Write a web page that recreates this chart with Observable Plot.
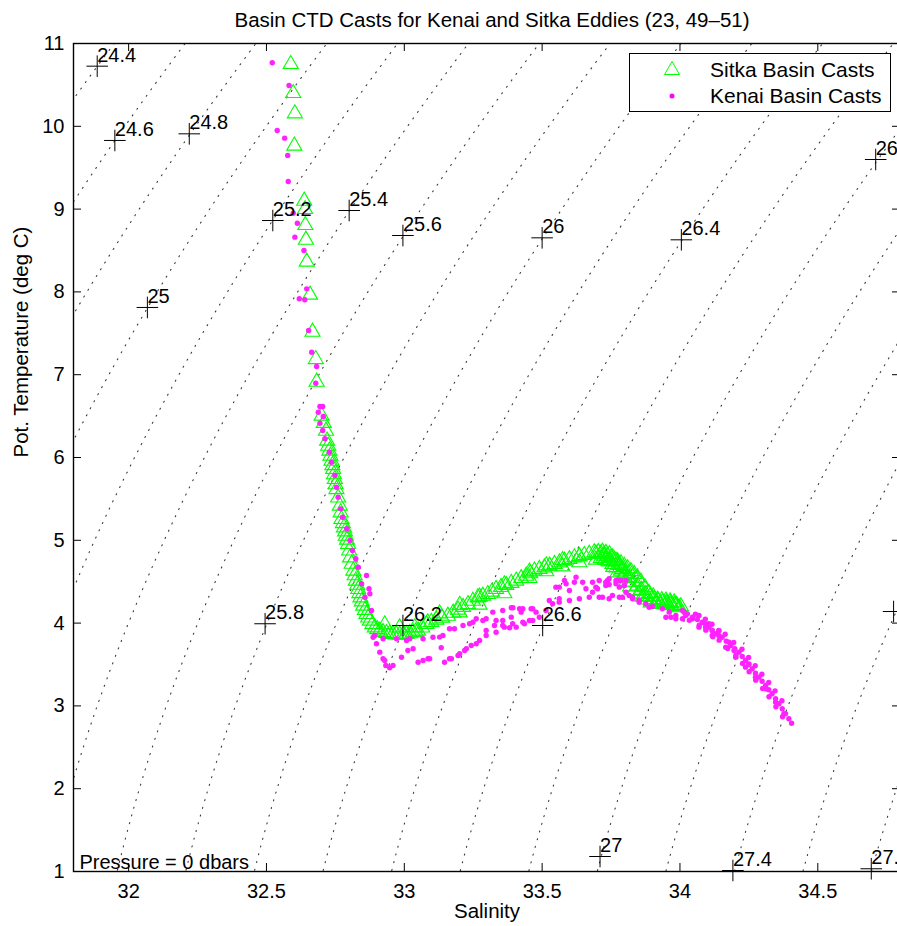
<!DOCTYPE html>
<html>
<head>
<meta charset="utf-8">
<script src="https://cdn.jsdelivr.net/npm/d3@7"></script>
<script src="https://cdn.jsdelivr.net/npm/@observablehq/plot@0.6"></script>
<style>
html, body { margin: 0; padding: 0; background: #fff; overflow: hidden; }
#wrap { position: relative; width: 897px; height: 926px; overflow: hidden; background: #fff; }
#legend { position: absolute; left: 629px; top: 53px; width: 260px; height: 57px; border: 1.3px solid #000; background: #fff; }
#legend svg { position: absolute; left: 0; top: 0; }
</style>
</head>
<body>
<div id="wrap">
  <div id="legend">
    <svg width="260" height="57" font-family="'Liberation Sans', Arial, Helvetica, sans-serif" font-size="21">
      <polygon points="42,7.5 34.5,20.5 49.5,20.5" fill="none" stroke="#00ff00" stroke-width="1"/>
      <circle cx="42" cy="42" r="2.5" fill="#ff00ff"/>
      <text x="80" y="23" fill="#000">Sitka Basin Casts</text>
      <text x="80" y="49" fill="#000">Kenai Basin Casts</text>
    </svg>
  </div>
</div>
<script>
// ---------------- data ----------------
const titleText = "Basin CTD Casts for Kenai and Sitka Eddies (23, 49–51)";
const xLabel = "Salinity";
const yLabel = "Pot. Temperature (deg C)";
const noteText = "Pressure = 0 dbars";

const xTicks = [32, 32.5, 33, 33.5, 34, 34.5];
const yTicks = [1, 2, 3, 4, 5, 6, 7, 8, 9, 10, 11];
const xDomain = [31.8, 34.8];
const yDomain = [1, 11];

// isopycnal (sigma-theta) levels drawn as dotted contours
const isoLevels = [24.4, 24.6, 24.8, 25.0, 25.2, 25.4, 25.6, 25.8, 26.0, 26.2, 26.4, 26.6, 26.8, 27.0, 27.2, 27.4, 27.6, 27.8];

// contour labels: salinity, temperature, text ("" = marker only, its text falls outside the picture)
const labelS = [31.886, 31.950, 32.220, 32.068, 32.523, 32.800, 32.995, 32.495, 33.500, 32.995, 34.005, 33.502, 34.710, 33.710, 34.192, 34.775, 34.694];
const labelT = [10.726, 9.829, 9.909, 7.812, 8.862, 8.983, 8.681, 3.992, 8.653, 3.971, 8.629, 3.971, 9.599, 1.181, 1.012, 4.140, 1.033];
const labelText = ["24.4", "24.6", "24.8", "25", "25.2", "25.4", "25.6", "25.8", "26", "26.2", "26.4", "26.6", "26.8", "27", "27.4", "", "27.8"];

// Sitka basin casts [salinity, pot. temperature]
const sitkaPoints = [
  [32.588,10.774],[32.597,10.424],[32.603,10.179],[32.601,9.789],[32.637,9.124],[32.640,9.023],
  [32.641,8.830],[32.643,8.653],[32.646,8.388],[32.658,7.989],[32.667,7.542],[32.679,7.211],[32.682,6.938],
  [32.700,6.528],[32.716,6.346],[32.720,6.226],[32.728,6.105],[32.736,5.984],[32.742,5.883],[32.748,5.762],
  [32.754,5.641],[32.766,5.441],[32.772,5.279],[32.781,5.179],[32.788,5.078],[32.796,4.977],[32.803,4.816],
  [32.815,4.656],[32.824,4.535],[32.833,4.434],[32.841,4.333],[32.851,4.233],[32.863,4.132],[32.875,4.052],
  [32.893,3.971],[32.911,3.931],[32.935,3.902],[32.959,3.890],[32.983,3.883],[33.008,3.890],[33.032,3.911],
  [33.050,3.931],[32.929,4.007],[32.983,3.971],[33.038,3.971],[33.085,4.032],
  [32.708,6.440],[32.724,6.165],[32.732,6.045],[32.739,5.930],[32.745,5.820],[32.751,5.700],[32.760,5.540],
  [32.769,5.360],[32.777,5.230],[32.785,5.130],[32.792,5.030],[32.800,4.900],[32.809,4.740],[32.820,4.600],
  [32.829,4.485],[32.837,4.385],[32.846,4.285],[32.857,4.180],[32.869,4.090],[32.884,4.010],[32.902,3.950],
  [32.923,3.915],[32.947,3.895],[32.971,3.886],[32.996,3.886],[33.020,3.900],[33.041,3.920],[33.065,3.970],
  [33.080,4.011],[33.116,4.064],[33.158,4.112],[33.195,4.185],[33.231,4.252],[33.267,4.333],[33.303,4.373],
  [33.333,4.434],[33.370,4.482],[33.406,4.535],[33.442,4.595],[33.472,4.656],[33.508,4.696],[33.545,4.736],
  [33.581,4.777],[33.617,4.816],[33.653,4.844],[33.689,4.877],[33.719,4.885],[33.744,4.856],[33.768,4.777],
  [33.792,4.675],[33.810,4.575],
  [33.098,4.037],[33.137,4.088],[33.177,4.148],[33.213,4.218],[33.249,4.292],[33.285,4.353],[33.318,4.403],
  [33.351,4.458],[33.388,4.508],[33.424,4.565],[33.457,4.625],[33.490,4.676],[33.527,4.716],[33.563,4.756],
  [33.599,4.796],[33.635,4.830],[33.671,4.860],[33.704,4.881],[33.731,4.870],[33.756,4.816],[33.780,4.726],
  [33.801,4.625],
  [33.128,4.140],[33.201,4.243],[33.273,4.342],[33.363,4.491],[33.454,4.644],[33.515,4.720],[33.574,4.784],
  [33.635,4.829],[33.695,4.865],
  [33.201,4.152],[33.273,4.245],[33.363,4.382],[33.454,4.567],[33.515,4.648],[33.574,4.708],[33.635,4.757],
  [33.695,4.789],
  [33.713,4.865],[33.737,4.837],[33.762,4.789],[33.786,4.744],[33.810,4.684],[33.834,4.615],[33.858,4.523],
  [33.888,4.386],[33.918,4.306],[33.949,4.294],[33.979,4.273],[33.997,4.213],
  [33.725,4.851],[33.750,4.813],[33.774,4.767],[33.798,4.714],[33.822,4.650],[33.846,4.570],[33.873,4.455],
  [33.903,4.346],[33.934,4.300],[33.964,4.284],[33.988,4.243],
  [33.713,4.808],[33.743,4.768],[33.773,4.635],[33.804,4.515],[33.834,4.414],[33.864,4.342],[33.894,4.273],
  [33.930,4.253],[33.967,4.240],[34.003,4.225],
  [33.728,4.788],[33.758,4.700],[33.789,4.575],[33.819,4.465],[33.849,4.378],[33.879,4.308],[33.912,4.263],
  [33.949,4.247],[33.985,4.232],
  [33.725,4.829],[33.755,4.736],[33.786,4.656],[33.816,4.575],[33.846,4.475],[33.876,4.373],[33.906,4.313],
  [33.936,4.273],[33.967,4.265],
  [33.740,4.780],[33.770,4.696],[33.801,4.615],[33.831,4.525],[33.861,4.424],[33.891,4.343],[33.921,4.293],
  [33.952,4.269],[33.980,4.245]
];

// Kenai basin casts [salinity, pot. temperature]
const kenaiPoints = [
  [32.521,10.767],[32.582,10.493],[32.539,9.949],[32.566,9.857],[32.577,9.647],[32.579,9.333],[32.597,8.950],
  [32.612,8.830],[32.603,8.661],[32.636,8.500],[32.646,8.037],[32.619,7.917],[32.639,7.905],[32.653,7.534],
  [32.664,7.272],[32.682,7.099],[32.679,6.897],[32.694,6.616],[32.704,6.616],[32.688,6.547],[32.706,6.495],
  [32.694,6.414],[32.704,6.326],[32.712,6.226],[32.728,6.064],[32.736,5.943],[32.748,5.783],[32.754,5.641],
  [32.760,5.520],[32.769,5.380],[32.776,5.279],[32.791,5.139],[32.803,4.998],[32.812,4.877],[32.824,4.777],
  [32.833,4.675],[32.863,4.575],[32.872,4.414],[32.875,4.354],[32.845,4.475],[32.857,4.313],[32.881,4.152],
  [32.893,3.850],[32.899,3.750],[32.911,3.649],[32.923,3.569],[32.929,3.549],[32.933,3.488],[32.947,3.460],
  [32.959,3.488],[32.990,3.588],[33.013,3.669],[33.032,3.690],[33.050,3.528],[33.068,3.549],[33.086,3.569],
  [33.092,3.569],[33.134,3.702],[33.146,3.528],[33.164,3.569],[33.171,3.569],[33.195,3.609],[33.201,3.629],
  [33.219,3.669],[33.225,3.690],[33.243,3.730],[33.261,3.750],[33.273,3.790],[33.297,3.850],[33.297,3.911],
  [33.327,3.971],[33.333,3.890],[33.357,4.032],[33.363,3.951],[33.388,4.072],[33.393,3.992],[33.424,4.132],
  [33.430,4.011],[33.454,4.032],[33.460,4.173],
  [32.887,3.830],[32.923,3.811],[32.972,3.811],[33.020,3.811],[33.068,3.811],[33.104,3.830],[33.140,3.850],
  [33.182,3.931],[33.213,3.971],[33.249,4.011],[33.285,4.032],[33.321,4.132],[33.357,4.152],[33.388,4.185],
  [33.430,4.173],[33.466,4.173],
  [33.008,3.790],[33.128,3.831],[33.164,3.931],[33.237,3.992],[33.261,4.052],[33.297,4.052],[33.394,4.185],
  [33.418,4.173],[33.478,4.132],
  [33.333,4.032],[33.357,3.971],[33.382,3.943],[33.406,3.951],[33.436,3.992],[33.466,4.032],[33.490,4.071],
  [33.514,4.152],[33.538,4.233],[33.562,4.294],
  [33.550,4.434],[33.562,4.434],[33.581,4.515],[33.587,4.475],[33.617,4.494],[33.623,4.555],[33.647,4.494],
  [33.683,4.494],[33.731,4.494],[33.737,4.515],[33.768,4.515],[33.786,4.515],[33.804,4.515],
  [33.707,4.515],[33.743,4.535],[33.780,4.515],[33.798,4.454],
  [33.526,4.273],[33.562,4.253],[33.599,4.273],[33.635,4.294],[33.671,4.313],[33.719,4.313],[33.755,4.333],
  [33.791,4.313],[33.828,4.294],[33.852,4.273],[33.876,4.233],[33.900,4.201],[33.936,4.173],[33.961,4.132],
  [33.967,4.071],[33.985,4.052],[34.015,4.132],
  [33.707,4.313],[33.743,4.294],[33.780,4.313],[33.816,4.333],[33.852,4.253],[33.888,4.192],[33.780,4.434],
  [33.804,4.373],[33.828,4.313],
  [33.599,4.394],[33.659,4.414],[33.695,4.434],[33.731,4.454],[33.683,4.373],[33.701,4.414],[33.743,4.466],
  [33.768,4.475],[33.798,4.454],
  [33.949,4.071],[33.985,4.092],[34.021,4.092],[34.045,4.052],[34.081,4.011],[34.093,3.951],[34.117,3.911],
  [34.135,3.871],[34.196,3.669],
  [34.009,4.152],[34.045,4.071],[34.105,3.951],[34.130,3.871],[34.153,3.830],[34.184,3.730],[34.214,3.649],
  [34.238,3.548],[34.262,3.448],[34.286,3.347],[34.311,3.247],[34.334,3.146],[34.359,3.026],[34.383,2.905],
  [34.405,2.791],
  [34.027,4.112],[34.063,4.044],[34.093,3.983],[34.117,3.911],[34.141,3.850],[34.168,3.782],[34.199,3.690],
  [34.226,3.597],[34.250,3.500],[34.274,3.395],[34.298,3.298],[34.322,3.195],[34.347,3.086],[34.371,2.965],
  [34.395,2.844],
  [34.069,4.092],[34.105,3.992],[34.141,3.911],[34.178,3.770],[34.250,3.508],
  [34.009,4.052],[34.069,3.951],[34.117,3.850],[34.166,3.709],[34.202,3.588],[34.238,3.468],[34.274,3.347],
  [34.311,3.207],[34.347,3.045],[34.377,2.905],
  [34.056,4.107],[34.092,4.047],[34.116,3.987],[34.141,3.907],[34.164,3.866],[34.195,3.766],[34.225,3.685],
  [34.249,3.584],[34.273,3.484],[34.297,3.383],[34.322,3.283],[34.345,3.182],[34.370,3.062],
  [34.034,4.035],[34.070,3.975],[34.094,3.915],[34.119,3.835],[34.142,3.794],[34.173,3.694],[34.203,3.613],
  [34.227,3.512],[34.251,3.412],[34.275,3.311],[34.300,3.211],[34.323,3.110],[34.348,2.990],[34.372,2.869]
];

// ---------------- build tables ----------------
const FONT = "'Liberation Sans', Arial, Helvetica, sans-serif";
const toRows = pts => pts.map(([S, T]) => ({S, T}));
const sitka = toRows(sitkaPoints);
const kenai = toRows(kenaiPoints);
const labels = labelS.map((S, i) => ({S, T: labelT[i], text: labelText[i]}));

// UNESCO EOS-80 density at p = 0 (sigma-theta), used to trace the isopycnals
function sigmaTheta(S, T) {
  const rw = 999.842594 + 6.793952e-2*T - 9.095290e-3*T*T + 1.001685e-4*T**3 - 1.120083e-6*T**4 + 6.536332e-9*T**5;
  const A = 8.24493e-1 - 4.0899e-3*T + 7.6438e-5*T*T - 8.2467e-7*T**3 + 5.3875e-9*T**4;
  const B = -5.72466e-3 + 1.0227e-4*T - 1.6546e-6*T*T;
  const C = 4.8314e-4;
  return rw + A*S + B*Math.pow(S, 1.5) + C*S*S - 1000;
}
const iso = [];
for (const level of isoLevels) {
  for (let i = 0; i <= 260; i++) {
    const T = -0.5 + i * 0.05;
    let lo = 20, hi = 42;
    for (let k = 0; k < 40; k++) { const m = (lo + hi) / 2; if (sigmaTheta(m, T) < level) lo = m; else hi = m; }
    iso.push({level, S: (lo + hi) / 2, T});
  }
}

// ---------------- plot ----------------
const W = 897, H = 926, mL = 73, mT = 43, mB = 55, mR = -3;
const tickPx = 8;
const tickT = (yDomain[1] - yDomain[0]) * tickPx / (H - mT - mB);
const tickS = (xDomain[1] - xDomain[0]) * tickPx / (W - mL - mR);

const chart = Plot.plot({
  width: W, height: H,
  marginLeft: mL, marginTop: mT, marginBottom: mB, marginRight: mR,
  x: {domain: xDomain},
  y: {domain: yDomain},
  style: {fontFamily: FONT, fontSize: "20px", background: "#fff", color: "#000"},
  marks: [
    Plot.line(iso, {x: "S", y: "T", z: "level", stroke: "#3a3a3a", strokeWidth: 1.1, strokeDasharray: "1.1 6.9", clip: true}),
    Plot.dot(sitka, {x: "S", y: "T", symbol: "triangle", r: 5.6, stroke: "#00ff00", fill: "none", strokeWidth: 1.1, dy: 2}),
    Plot.dot(kenai, {x: "S", y: "T", r: 2.7, fill: "#ff22ff", stroke: "none"}),
    Plot.dot(labels, {x: "S", y: "T", symbol: "plus", r: 7, stroke: "#000", strokeWidth: 1}),
    Plot.text(labels, {x: "S", y: "T", text: "text", textAnchor: "start", lineAnchor: "bottom", dy: -4.5, fontSize: 20, fill: "#000"}),
    Plot.ruleX(xTicks, {x: d => d, y1: yDomain[0], y2: yDomain[0] + tickT, stroke: "#000", strokeWidth: 1}),
    Plot.ruleX(xTicks, {x: d => d, y1: yDomain[1] - tickT, y2: yDomain[1], stroke: "#000", strokeWidth: 1}),
    Plot.ruleY(yTicks, {y: d => d, x1: xDomain[0], x2: xDomain[0] + tickS, stroke: "#000", strokeWidth: 1}),
    Plot.ruleY(yTicks, {y: d => d, x1: xDomain[1] - tickS, x2: xDomain[1], stroke: "#000", strokeWidth: 1}),
    Plot.axisX(xTicks, {anchor: "bottom", tickSize: 0, tickPadding: 12, tickFormat: d => String(d), label: null, fontSize: 20}),
    Plot.axisY(yTicks, {anchor: "left", tickSize: 0, tickPadding: 9, tickFormat: d => String(d), label: null, fontSize: 20}),
    Plot.frame({stroke: "#000", strokeWidth: 1.4}),
    Plot.text([noteText], {text: d => d, frameAnchor: "bottom-left", dx: 6, dy: -3, textAnchor: "start", lineAnchor: "bottom", fontSize: 20, fill: "#000"}),
    Plot.text([titleText], {text: d => d, frameAnchor: "top", dx: 5, dy: -17, lineAnchor: "bottom", fontSize: 20.5, fill: "#000"}),
    Plot.text([xLabel], {text: d => d, frameAnchor: "bottom", dy: 46, lineAnchor: "bottom", fontSize: 20.5, fill: "#000"}),
    Plot.text([yLabel], {text: d => d, frameAnchor: "left", dx: -46, rotate: -90, lineAnchor: "bottom", fontSize: 20.5, fill: "#000"})
  ]
});
document.getElementById("wrap").insertBefore(chart, document.getElementById("legend"));
</script>
</body>
</html>
